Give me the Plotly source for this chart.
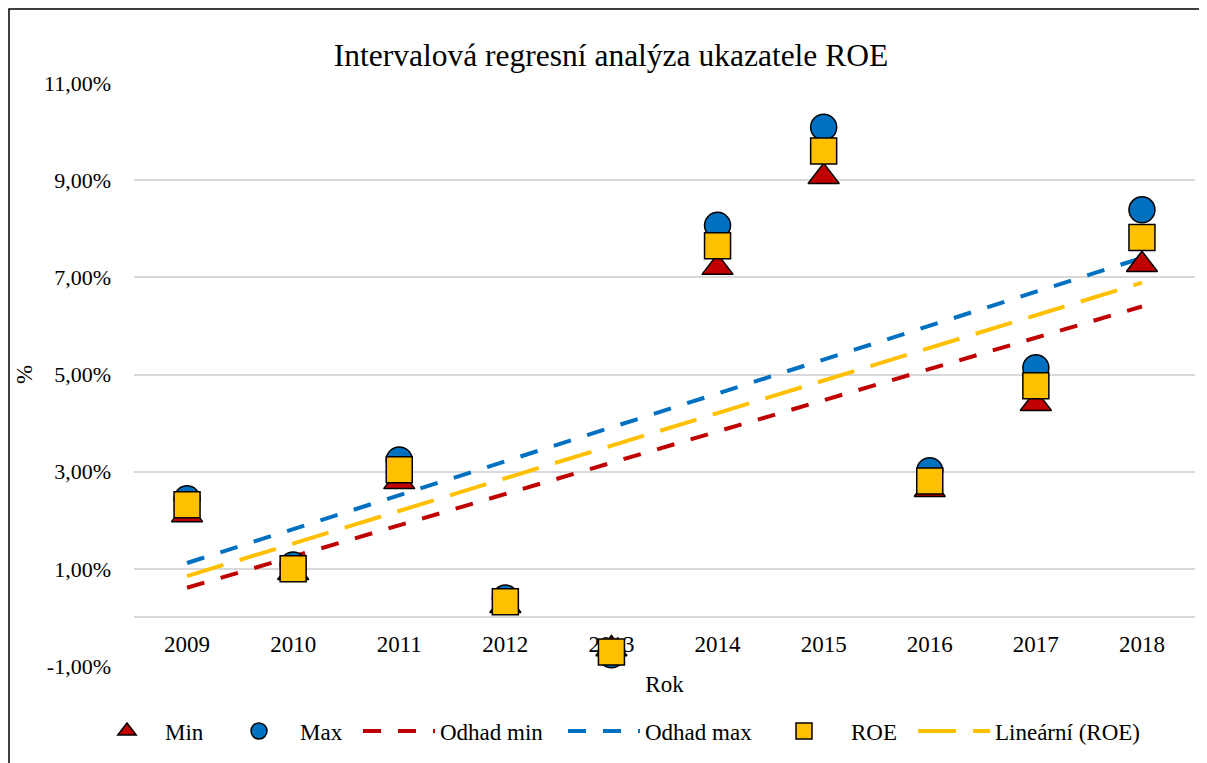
import plotly.graph_objects as go

years = ["2009", "2010", "2011", "2012", "2013", "2014", "2015", "2016", "2017", "2018"]
min_vals = [2.11, 0.92, 2.79, 0.24, -0.65, 7.20, 9.07, 2.63, 4.40, 7.26]
max_vals = [2.44, 1.08, 3.24, 0.40, -0.77, 8.07, 10.09, 3.02, 5.14, 8.39]
roe_vals = [2.32, 1.00, 3.04, 0.32, -0.71, 7.65, 9.60, 2.81, 4.77, 7.82]
line_years = ["2009", "2018"]
odhad_min = [0.61, 6.40]
odhad_max = [1.12, 7.40]
linear_roe = [0.85, 6.89]
y_ticks = [-1, 1, 3, 5, 7, 9, 11]
y_tick_text = ["-1,00%", "1,00%", "3,00%", "5,00%", "7,00%", "9,00%", "11,00%"]

RED = "#C00000"
BLUE = "#0070C0"
YEL = "#FFC000"
FONT = "Liberation Serif"

OFF = 8  # page body margin offset of the rendered figure
W, H = 1207, 763
# desired plot area in screen pixels
SL, SR, ST, SB = 134, 1195, 83, 666
L, T = SL - OFF, ST - OFF
R, B = W - (SR - OFF), H - (SB - OFF)
pw, ph = W - L - R, H - T - B


def px_x(x):
    return (x - OFF - L) / pw


def px_y(y):
    return (H - B - (y - OFF)) / ph


fig = go.Figure()
fig.add_trace(go.Scatter(x=line_years, y=odhad_min, mode="lines", name="Odhad min", legend="legend3",
                         line=dict(color=RED, width=4, dash="18px,17px")))
fig.add_trace(go.Scatter(x=line_years, y=odhad_max, mode="lines", name="Odhad max", legend="legend4",
                         line=dict(color=BLUE, width=4, dash="18px,17px")))
fig.add_trace(go.Scatter(x=line_years, y=linear_roe, mode="lines", name="Lineární (ROE)", legend="legend6",
                         line=dict(color=YEL, width=4, dash="38px,17px")))
fig.add_trace(go.Scatter(x=years, y=min_vals, mode="markers", name="Min", legend="legend",
                         marker=dict(symbol="triangle-up", size=27, color=RED,
                                     line=dict(color="black", width=1.5))))
fig.add_trace(go.Scatter(x=years, y=max_vals, mode="markers", name="Max", legend="legend2",
                         marker=dict(symbol="circle", size=26, color=BLUE,
                                     line=dict(color="black", width=1.5))))
fig.add_trace(go.Scatter(x=years, y=roe_vals, mode="markers", name="ROE", legend="legend5",
                         marker=dict(symbol="square", size=26, color=YEL,
                                     line=dict(color="black", width=1.5))))
for tr in fig.data:
    tr.cliponaxis = False
    tr.showlegend = True

# text start (screen px) and symbol-area width of each legend entry
legend_text_x = [165, 300, 440, 645, 851, 995]
legend_itemw = [66, 72, 72, 72, 84, 72]
legends = {}
for i, (tx, iw) in enumerate(zip(legend_text_x, legend_itemw)):
    key = "legend" if i == 0 else f"legend{i + 1}"
    legends[key] = dict(orientation="h", x=px_x(tx - iw - 10), xanchor="left",
                        y=px_y(731), yanchor="middle", itemwidth=iw,
                        font=dict(family=FONT, size=23, color="black"),
                        bgcolor="rgba(0,0,0,0)", borderwidth=0)

fig.update_layout(
    width=W, height=H,
    showlegend=True,
    margin=dict(l=L, r=R, t=T, b=B, autoexpand=False),
    paper_bgcolor="white", plot_bgcolor="white",
    font=dict(family=FONT, size=23, color="black"),
    title=dict(text="Intervalová regresní analýza ukazatele ROE",
               font=dict(family=FONT, size=31.5, color="black"),
               x=(611 - OFF) / W, xanchor="center", xref="container",
               y=1 - (55 - OFF) / H, yanchor="middle", yref="container"),
    xaxis=dict(type="category", categoryorder="array", categoryarray=years,
               anchor="free", position=1 / 12, showline=True, linecolor="#d9d9d9",
               linewidth=1.5, showgrid=False, layer="below traces", automargin=False,
               ticks="", ticklabelstandoff=6, tickfont=dict(family=FONT, size=23),
               title=dict(text="Rok", font=dict(family=FONT, size=23), standoff=19),
               range=[-0.5, 9.5]),
    yaxis=dict(range=[-1, 11], tickvals=y_ticks, ticktext=y_tick_text, automargin=False,
               showgrid=True, gridcolor="#d9d9d9", gridwidth=1.5, zeroline=False,
               ticks="", ticklabelstandoff=22, tickfont=dict(family=FONT, size=22),
               title=dict(text="%", font=dict(family=FONT, size=23), standoff=4)),
    shapes=[dict(type="rect", xref="paper", yref="paper",
                 x0=px_x(9), x1=px_x(1240), y0=px_y(800), y1=px_y(9),
                 line=dict(color="black", width=1.5), fillcolor="rgba(0,0,0,0)", layer="below")],
    **legends,
)

fig.write_html("out.html")
